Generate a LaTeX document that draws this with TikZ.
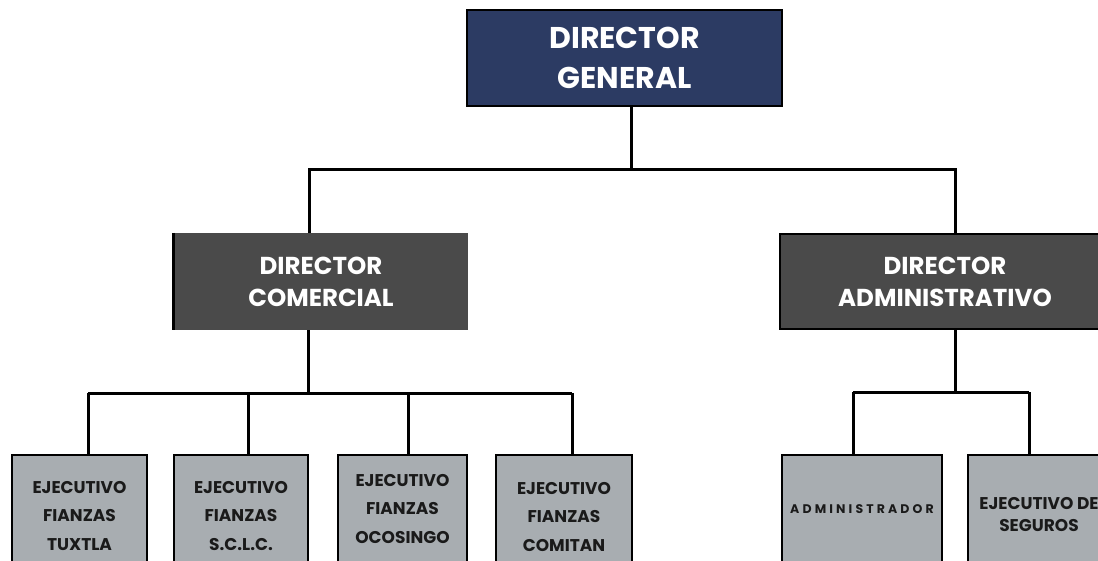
\documentclass[tikz,border=0pt]{standalone}
\usepackage{fontspec}
\setmainfont{Poppins}
\definecolor{navy}{HTML}{2C3B63}
\definecolor{darkbox}{HTML}{4A4A4A}
\definecolor{lightbox}{HTML}{A8ADB1}
\definecolor{ink}{HTML}{1A1A1A}
\begin{document}
\begin{tikzpicture}[x=1pt,y=-1pt,
  conn/.style={line width=3pt,black},
  topbox/.style={rectangle,draw=black,line width=2.8pt,fill=navy,text=white,align=center,inner sep=0pt,
    font=\bfseries\fontsize{30}{40}\selectfont},
  midbox/.style={rectangle,fill=darkbox,text=white,align=center,inner sep=0pt,
    font=\bfseries\fontsize{24.5}{32}\selectfont},
  lowbox/.style={rectangle,draw=black,line width=2.8pt,fill=lightbox,text=ink,align=center,inner sep=0pt,
    font=\bfseries\fontsize{17}{28.5}\selectfont}]
\useasboundingbox (0,0) rectangle (1098,561);
\clip (0,0) rectangle (1098,561);
\fill[white] (0,0) rectangle (1098,561);

% level 0
\node[topbox,minimum width=315pt,minimum height=96pt] (dg) at (624.5,58) {DIRECTOR\\GENERAL};

% level 1
\node[midbox,minimum width=294pt,minimum height=97pt] (dc) at (321,281.5) {DIRECTOR\\COMERCIAL};
\draw[line width=2.8pt] (dc.north west) -- (dc.south west);
\node[midbox,draw=black,line width=2.8pt,minimum width=330pt,minimum height=95pt] (da) at (945,281.5) {DIRECTOR\\ADMINISTRATIVO};

% level 2
\node[lowbox,minimum width=135pt,minimum height=122pt] (e1) at (79.5,516) {EJECUTIVO\\FIANZAS\\TUXTLA};
\node[lowbox,minimum width=134pt,minimum height=122pt] (e2) at (241,516) {EJECUTIVO\\FIANZAS\\S.C.L.C.};
\node[lowbox,minimum width=129pt,minimum height=108pt] (e3) at (402.5,509) {EJECUTIVO\\FIANZAS\\OCOSINGO};
\node[lowbox,minimum width=136pt,minimum height=124pt] (e4) at (564,517) {EJECUTIVO\\FIANZAS\\COMITAN};
\node[lowbox,minimum width=160pt,minimum height=108pt,
  font=\bfseries\fontsize{12.5}{14}\selectfont\addfontfeature{LetterSpace=25}] (e5) at (862,509) {ADMINISTRADOR};
\node[lowbox,minimum width=142pt,minimum height=120pt,
  font=\bfseries\fontsize{17}{22}\selectfont] (e6) at (1039,515) {EJECUTIVO DE\\SEGUROS};

% junction coordinates
\coordinate (t0) at (631,170);
\coordinate (tl) at (309,170);
\coordinate (tr) at (955,170);
\coordinate (cl) at (308,393);
\coordinate (c1) at (88,393);
\coordinate (c2) at (248,393);
\coordinate (c3) at (408,393);
\coordinate (c4) at (572,393);
\coordinate (ar) at (955,392);
\coordinate (a1) at (853,392);
\coordinate (a2) at (1029,392);

% connectors
\draw[conn] (t0 |- dg.south) -- (t0);
\draw[conn] (tl |- dc.north) -- (tl) -- (tr) -- (tr |- da.north);
\draw[conn] (cl |- dc.south) -- (cl);
\draw[conn] (c1) -- (c4);
\draw[conn] (c1) -- (c1 |- e1.north);
\draw[conn] (c2) -- (c2 |- e2.north);
\draw[conn] (c3) -- (c3 |- e3.north);
\draw[conn] (c4) -- (c4 |- e4.north);
\draw[conn] (ar |- da.south) -- (ar);
\draw[conn] (a1) -- (a2);
\draw[conn] (a1) -- (a1 |- e5.north);
\draw[conn] (a2) -- (a2 |- e6.north);
\end{tikzpicture}
\end{document}
